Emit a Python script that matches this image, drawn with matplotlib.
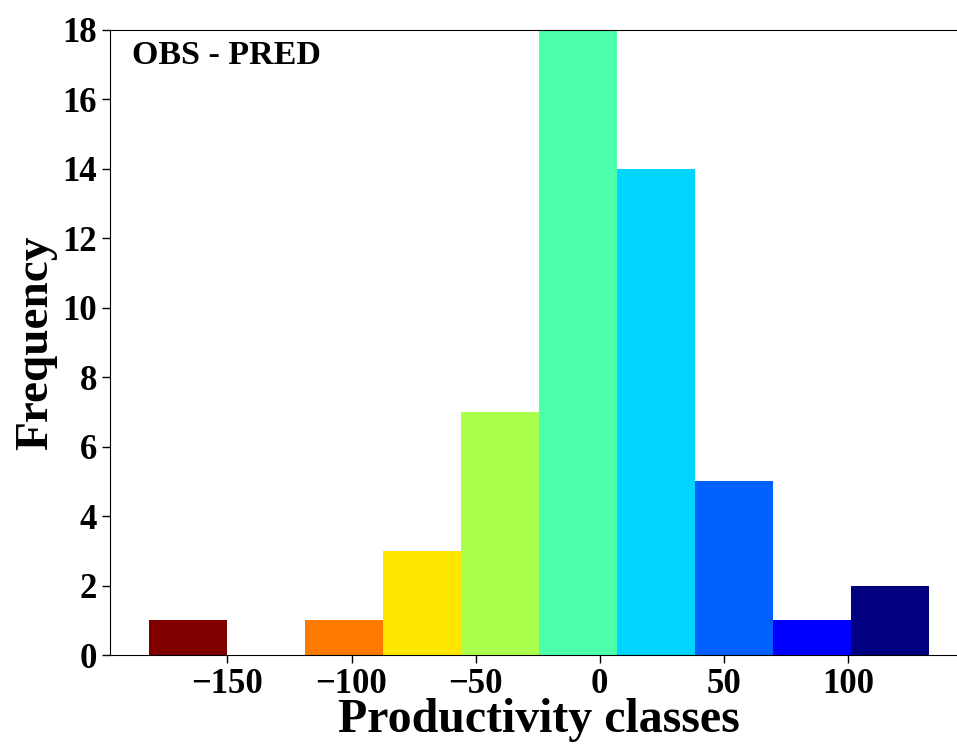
import numpy as np
import matplotlib
matplotlib.use("Agg")
import matplotlib.pyplot as plt
from matplotlib import cm

# Histogram of OBS - PRED differences (productivity classes)
bin_edges = [-181.6, -150.2, -118.7, -87.3, -55.9, -24.4, 7.0, 38.4, 69.9, 101.3, 132.7]
counts = [1, 0, 1, 3, 7, 18, 14, 5, 1, 2]
y_ticks = [0, 2, 4, 6, 8, 10, 12, 14, 16, 18]
x_ticks = [-150, -100, -50, 0, 50, 100]

plt.rcParams["font.family"] = ["Liberation Serif", "DejaVu Serif"]
plt.rcParams["font.weight"] = "bold"

W, H = 957, 745
fig = plt.figure(figsize=(W / 100, H / 100), dpi=100)
ax = fig.add_axes([110 / W, (H - 655) / H, (968 - 110) / W, (655 - 30) / H])

lefts = np.array(bin_edges[:-1])
widths = np.diff(bin_edges)
n = len(counts)
colors = [cm.jet(1 - i / (n - 1)) for i in range(n)]
ax.bar(lefts, counts, width=widths, align="edge", color=colors, edgecolor="none")

span = bin_edges[-1] - bin_edges[0]
ax.set_xlim(bin_edges[0] - 0.05 * span, bin_edges[-1] + 0.05 * span)
ax.set_ylim(0, 18)
ax.set_xticks(x_ticks)
ax.set_xticklabels([f"\u2212{abs(v)}" if v < 0 else str(v) for v in x_ticks])
ax.set_yticks(y_ticks)
ax.tick_params(labelsize=25, length=6, width=1)
for lab in ax.get_xticklabels() + ax.get_yticklabels():
    lab.set_fontweight("bold")

ax.set_xlabel("Productivity classes", fontsize=34.5, fontweight="bold")
ax.set_ylabel("Frequency", fontsize=34, fontweight="bold")
ax.xaxis.set_label_coords((539 - 110) / (968 - 110), -(732 - 655) / (655 - 30),
                          transform=ax.transAxes)
ax.xaxis.label.set_va("baseline")
ax.yaxis.set_label_coords(-(110 - 47) / (968 - 110), (655 - 343) / (655 - 30),
                          transform=ax.transAxes)
ax.yaxis.label.set_va("baseline")

ax.text(132 / W, (H - 64) / H, "OBS - PRED", transform=fig.transFigure,
        fontsize=24.5, fontweight="bold", ha="left", va="baseline")

fig.savefig("out.png", dpi=100)
